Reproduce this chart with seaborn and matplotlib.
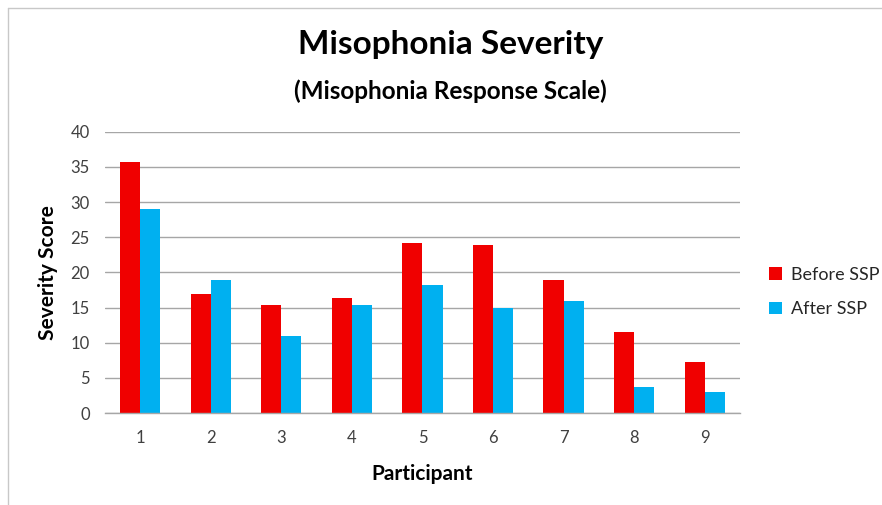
import matplotlib
matplotlib.use("Agg")
import matplotlib.pyplot as plt
import pandas as pd
import seaborn as sns
import numpy as np

# Data
participants = ["1", "2", "3", "4", "5", "6", "7", "8", "9"]
before_ssp = [35.7, 17.0, 15.4, 16.4, 24.2, 23.9, 18.9, 11.6, 7.2]
after_ssp = [29.0, 18.9, 10.9, 15.3, 18.2, 15.0, 16.0, 3.7, 3.0]
series = ["Before SSP", "After SSP"]
colors = ["#F00000", "#00B0F0"]

df = pd.DataFrame({
    "Participant": participants * 2,
    "Score": before_ssp + after_ssp,
    "Series": [series[0]] * len(participants) + [series[1]] * len(participants),
})

sns.set_style("white")
plt.rcParams["font.family"] = ["Lato", "DejaVu Sans"]

fig = plt.figure(figsize=(8.82, 5.05), dpi=100)
ax = fig.add_axes([0.119, 0.182, 0.72, 0.557])

sns.barplot(data=df, x="Participant", y="Score", hue="Series",
            palette=colors, width=0.57, saturation=1, ax=ax,
            order=participants, hue_order=series, linewidth=0)

ax.set_ylim(0, 40)
ax.set_yticks(np.arange(0, 41, 5))
ax.set_xlim(-0.5, len(participants) - 0.5)
ax.yaxis.grid(True, color="#a6a6a6", linewidth=1)
ax.set_axisbelow(True)

for s in ["top", "right", "left"]:
    ax.spines[s].set_visible(False)
ax.spines["bottom"].set_color("#a6a6a6")
ax.spines["bottom"].set_linewidth(1)

# ticks: y outward, x at category boundaries
ax.tick_params(axis="y", length=7, color="#a6a6a6", labelsize=12,
               labelcolor="#404040", pad=4)
ax.tick_params(axis="x", which="major", length=0, labelsize=12,
               labelcolor="#404040", pad=12)
ax.set_xticks(np.arange(-0.5, len(participants)), minor=True)
ax.tick_params(axis="x", which="minor", length=6, color="#a6a6a6")

ax.set_xlabel("Participant", fontsize=15, fontweight="bold", labelpad=13,
              color="black")
ax.set_ylabel("Severity Score", fontsize=15, fontweight="bold", labelpad=9,
              color="black")

fig.text(0.511, 0.912, "Misophonia Severity", ha="center", va="center",
         fontsize=24, fontweight="bold", color="black")
fig.text(0.511, 0.82, "(Misophonia Response Scale)", ha="center", va="center",
         fontsize=17.5, fontweight="bold", color="black")

ax.legend(loc="center left", bbox_to_anchor=(1.02, 0.43), frameon=False,
          fontsize=13, handlelength=0.7, handleheight=0.7, labelspacing=1.0,
          handletextpad=0.5)

# faint sheet frame at left and top
fig.add_artist(plt.Line2D([0.009, 0.009], [0, 0.985], color="#c8c8c8", lw=1,
                          transform=fig.transFigure))
fig.add_artist(plt.Line2D([0.009, 1], [0.985, 0.985], color="#c8c8c8", lw=1,
                          transform=fig.transFigure))

fig.savefig("out.png", dpi=100)
